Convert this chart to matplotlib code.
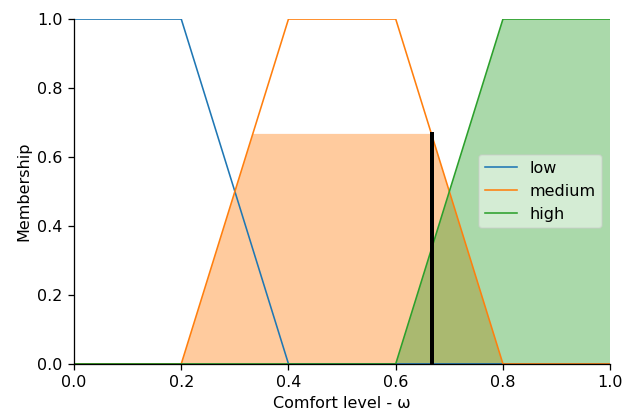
import numpy as np
import matplotlib
matplotlib.use("Agg")
import matplotlib.pyplot as plt

# Trapezoid membership function parameters (a, b, c, d)
labels = ["low", "medium", "high"]
low_params = [0.0, 0.0, 0.2, 0.4]
medium_params = [0.2, 0.4, 0.6, 0.8]
high_params = [0.6, 0.8, 1.0, 1.0]
medium_activation = 0.667
high_activation = 1.0
crisp_output = 0.667
crisp_membership = 0.667

x = np.linspace(0, 1, 1001)

def trapmf(xv, p):
    a, b, c, d = p
    xs = [a, b, c, d]
    ys = [0, 1, 1, 0]
    if a == b:
        ys[0] = 1
    if c == d:
        ys[3] = 1
    return np.interp(xv, xs, ys)

mf_low = trapmf(x, low_params)
mf_med = trapmf(x, medium_params)
mf_high = trapmf(x, high_params)

colors = ["#1f77b4", "#ff7f0e", "#2ca02c"]

DPI = 115
fig, ax = plt.subplots(figsize=(622 / DPI, 414 / DPI), dpi=DPI)
fig.subplots_adjust(left=0.119, right=0.981, top=0.954, bottom=0.121)

ax.plot(x, mf_low, color=colors[0], lw=1, label=labels[0])
ax.plot(x, mf_med, color=colors[1], lw=1, label=labels[1])
ax.plot(x, mf_high, color=colors[2], lw=1, label=labels[2])

ax.fill_between(x, 0, np.fmin(mf_med, medium_activation), facecolor=colors[1], alpha=0.4, lw=0)
ax.fill_between(x, 0, np.fmin(mf_high, high_activation), facecolor=colors[2], alpha=0.4, lw=0)

ax.plot([crisp_output, crisp_output], [0, crisp_membership], color="k", lw=2.5)

ax.set_xlim(0, 1)
ax.set_ylim(0, 1)
ax.set_xlabel("Comfort level - ω")
ax.set_ylabel("Membership")
ax.spines["top"].set_visible(False)
ax.spines["right"].set_visible(False)
ax.legend(loc="center right", framealpha=0.5)

fig.savefig("out.png", dpi=DPI)
